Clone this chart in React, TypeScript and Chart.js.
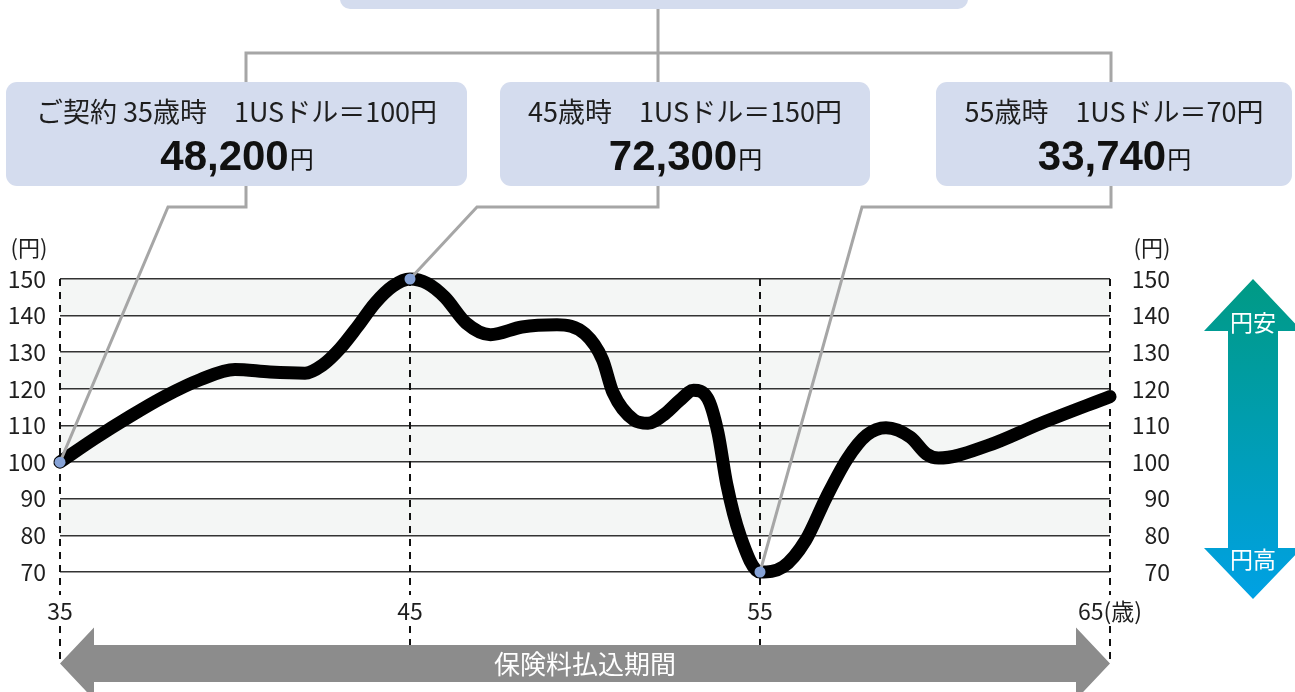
import React, { useEffect, useRef } from "react";
import { Chart, registerables } from "chart.js";

Chart.register(...registerables);

// ---- data ----
const ages = [35, 36, 37, 38, 39, 40, 41, 42, 42.5, 43, 43.5, 44, 44.5, 45, 45.5, 46, 46.6, 47.3, 48.2, 49.2, 50, 50.5, 50.8, 51.4, 51.8, 52.3, 52.7, 53.1, 53.5, 53.8, 54.05, 54.43, 55, 55.66, 56.3, 56.9, 57.5, 58.05, 58.6, 59.3, 59.76, 60.1, 61.5, 63, 65];
const rates = [100, 106.5, 112.5, 118, 122.5, 125.3, 124.6, 124.3, 126.5, 131, 137, 143.4, 148, 150, 148.8, 145, 138, 134.8, 136.9, 137.5, 135, 128, 119, 111.5, 110.6, 113.3, 116.8, 119.6, 117.5, 108, 94, 80, 70, 71.4, 78.6, 90.5, 101, 107.4, 109.4, 106.8, 102.2, 101.1, 104.5, 110.5, 117.9];

const calloutAges = [35, 45, 55];
const calloutHeads = ["ご契約 35歳時　1USドル＝100円", "45歳時　1USドル＝150円", "55歳時　1USドル＝70円"];
const calloutAmounts = ["48,200", "72,300", "33,740"];
const amountUnit = "円";
const yUnitLabel = "(円)";
const xUnitLabel = "(歳)";
const periodLabel = "保険料払込期間";
const weakYenLabel = "円安";
const strongYenLabel = "円高";

const JP = "'Noto Sans CJK JP', 'Noto Sans', sans-serif";

// layout (pixels)
const boxes = [
  { x: 6, w: 461, stemX: 246, elbowX: 168 },
  { x: 500, w: 370, stemX: 658, elbowX: 477 },
  { x: 936, w: 356, stemX: 1111, elbowX: 862 },
];
const BOX_TOP = 82;
const BOX_H = 104;
const BOX_COLOR = "#d4dcee";
const CONNECT = "#a6a6a6";

function valueAt(age: number): number {
  const i = ages.indexOf(age);
  return rates[i];
}

const decorPlugin = {
  id: "decor",
  beforeDraw(chart: any) {
    const { ctx, chartArea, scales } = chart;
    const y = scales.y;
    ctx.save();
    ctx.fillStyle = "#ffffff";
    ctx.fillRect(0, 0, chart.width, chart.height);
    ctx.fillStyle = "#f4f6f5";
    for (let v = 140; v >= 70; v -= 20) {
      const top = y.getPixelForValue(v + 10);
      const bot = y.getPixelForValue(v);
      ctx.fillRect(chartArea.left, top, chartArea.right - chartArea.left, bot - top);
    }
    ctx.restore();
  },
  beforeDatasetsDraw(chart: any) {
    const { ctx, chartArea, scales } = chart;
    const x = scales.x;
    ctx.save();
    ctx.strokeStyle = "#111";
    ctx.lineWidth = 2;
    ctx.setLineDash([7, 6]);
    x.ticks.forEach((t: any) => {
      const px = Math.round(x.getPixelForValue(t.value));
      ctx.beginPath();
      ctx.moveTo(px, chartArea.top);
      ctx.lineTo(px, chartArea.bottom + 23);
      ctx.moveTo(px, chartArea.bottom + 54);
      ctx.lineTo(px, chartArea.bottom + 93);
      ctx.stroke();
    });
    ctx.restore();
  },
  afterDatasetDraw(chart: any, args: any) {
    if (args.index !== 0) return;
    const { ctx, scales } = chart;
    const x = scales.x;
    const y = scales.y;
    ctx.save();
    ctx.strokeStyle = CONNECT;
    ctx.lineWidth = 3;
    ctx.lineJoin = "miter";
    // top tree
    ctx.beginPath();
    ctx.moveTo(658, 9);
    ctx.lineTo(658, BOX_TOP);
    ctx.moveTo(boxes[0].stemX, BOX_TOP);
    ctx.lineTo(boxes[0].stemX, 53);
    ctx.lineTo(boxes[2].stemX, 53);
    ctx.lineTo(boxes[2].stemX, BOX_TOP);
    ctx.stroke();
    // leaders to points
    calloutAges.forEach((a, i) => {
      const b = boxes[i];
      const px = x.getPixelForValue(a);
      const py = y.getPixelForValue(valueAt(a));
      ctx.beginPath();
      ctx.moveTo(b.stemX, BOX_TOP + BOX_H);
      ctx.lineTo(b.stemX, 207);
      ctx.lineTo(b.elbowX, 207);
      ctx.lineTo(px, py);
      ctx.stroke();
    });
    ctx.restore();
  },
  afterDraw(chart: any) {
    const { ctx, scales } = chart;
    const x = scales.x;
    ctx.save();
    // top box (cut off)
    ctx.fillStyle = BOX_COLOR;
    ctx.beginPath();
    ctx.roundRect(340, -20, 628, 29, 10);
    ctx.fill();
    // callout boxes
    boxes.forEach((b, i) => {
      ctx.fillStyle = BOX_COLOR;
      ctx.beginPath();
      ctx.roundRect(b.x, BOX_TOP, b.w, BOX_H, 11);
      ctx.fill();
      const cx = b.x + b.w / 2;
      ctx.fillStyle = "#1e1e1e";
      ctx.textAlign = "center";
      ctx.textBaseline = "middle";
      ctx.font = `27px ${JP}`;
      ctx.fillText(calloutHeads[i], cx, 112);
      ctx.textBaseline = "alphabetic";
      ctx.font = `bold 42px 'Liberation Sans', Arial, sans-serif`;
      const w1 = ctx.measureText(calloutAmounts[i]).width;
      ctx.font = `24px ${JP}`;
      const w2 = ctx.measureText(amountUnit).width;
      const start = cx - (w1 + w2) / 2;
      ctx.textAlign = "left";
      ctx.font = `bold 42px 'Liberation Sans', Arial, sans-serif`;
      ctx.fillStyle = "#111";
      ctx.fillText(calloutAmounts[i], start, 170);
      ctx.font = `24px ${JP}`;
      ctx.fillText(amountUnit, start + w1 + 1, 168);
    });
    // unit labels
    ctx.fillStyle = "#1e1e1e";
    ctx.font = `22px ${JP}`;
    ctx.textAlign = "center";
    ctx.textBaseline = "middle";
    ctx.fillText(yUnitLabel, 29, 248);
    ctx.fillText(yUnitLabel, 1152, 248);

    // bottom period arrow
    const l = x.getPixelForValue(35);
    const r = x.getPixelForValue(65);
    const cy = 663.5;
    ctx.fillStyle = "#8c8c8c";
    ctx.beginPath();
    ctx.moveTo(l, cy);
    ctx.lineTo(l + 34, cy - 36);
    ctx.lineTo(l + 34, cy - 18.5);
    ctx.lineTo(r - 34, cy - 18.5);
    ctx.lineTo(r - 34, cy - 36);
    ctx.lineTo(r, cy);
    ctx.lineTo(r - 34, cy + 36);
    ctx.lineTo(r - 34, cy + 18.5);
    ctx.lineTo(l + 34, cy + 18.5);
    ctx.lineTo(l + 34, cy + 36);
    ctx.closePath();
    ctx.fill();
    ctx.fillStyle = "#ffffff";
    ctx.font = `26px ${JP}`;
    ctx.textAlign = "center";
    ctx.textBaseline = "middle";
    ctx.fillText(periodLabel, (l + r) / 2, cy + 1);

    // right gradient arrow
    const ax = 1253;
    const top = 279;
    const bot = 599;
    const g = ctx.createLinearGradient(0, top, 0, bot);
    g.addColorStop(0, "#009a84");
    g.addColorStop(1, "#00a1e4");
    ctx.fillStyle = g;
    ctx.beginPath();
    ctx.moveTo(ax, top);
    ctx.lineTo(ax + 49, top + 52);
    ctx.lineTo(ax + 25, top + 52);
    ctx.lineTo(ax + 25, bot - 51);
    ctx.lineTo(ax + 49, bot - 51);
    ctx.lineTo(ax, bot);
    ctx.lineTo(ax - 49, bot - 51);
    ctx.lineTo(ax - 25, bot - 51);
    ctx.lineTo(ax - 25, top + 52);
    ctx.lineTo(ax - 49, top + 52);
    ctx.closePath();
    ctx.fill();
    ctx.fillStyle = "#ffffff";
    ctx.font = `23px ${JP}`;
    ctx.fillText(weakYenLabel, ax, 322);
    ctx.fillText(strongYenLabel, ax, 559);
    ctx.restore();
  },
};

export default function App() {
  const ref = useRef<HTMLCanvasElement | null>(null);
  useEffect(() => {
    if (!ref.current) return;
    const tickFont = { family: JP, size: 23 };
    const chart = new Chart(ref.current, {
      type: "line",
      data: {
        datasets: [
          {
            data: ages.map((a, i) => ({ x: a, y: rates[i] })),
            borderColor: "#000",
            borderWidth: 13,
            borderCapStyle: "round",
            borderJoinStyle: "round",
            cubicInterpolationMode: "monotone",
            pointRadius: 0,
            fill: false,
            clip: false,
            order: 2,
          } as any,
          {
            data: calloutAges.map((a) => ({ x: a, y: valueAt(a) })),
            showLine: false,
            pointRadius: 5.5,
            pointBackgroundColor: "#86a2d6",
            pointBorderWidth: 0,
            borderWidth: 0,
            clip: false,
            order: 1,
          } as any,
        ],
      },
      options: {
        responsive: false,
        animation: false,
        events: [],
        layout: { padding: { left: 0, right: 125, top: 279, bottom: 60 } },
        plugins: { legend: { display: false }, tooltip: { enabled: false } },
        scales: {
          x: {
            type: "linear",
            min: 35,
            max: 65,
            ticks: {
              stepSize: 10,
              font: tickFont,
              color: "#1e1e1e",
              padding: 25,
              maxRotation: 0,
              callback: (v: any) => (v === 65 ? `${v}${xUnitLabel}` : `${v}`),
            },
            grid: { display: false, drawTicks: false },
            border: { display: false },
            afterFit: (s: any) => { s.height = 60; },
          },
          y: {
            position: "left",
            min: 70,
            max: 150,
            ticks: { stepSize: 10, font: tickFont, color: "#1e1e1e", padding: 14 },
            grid: { color: "#333", lineWidth: 1.6, drawTicks: false },
            border: { display: false },
            afterFit: (s: any) => { s.width = 60; },
          },
          y2: {
            position: "right",
            min: 70,
            max: 150,
            ticks: { stepSize: 10, font: tickFont, color: "#1e1e1e", crossAlign: "far" },
            grid: { display: false, drawTicks: false },
            border: { display: false },
            afterFit: (s: any) => { s.width = 60; },
          },
        },
      } as any,
      plugins: [decorPlugin],
    });
    return () => chart.destroy();
  }, []);
  return (
    <div style={{ position: "fixed", left: 0, top: 0, width: 1295, height: 692, background: "#fff" }}>
      <canvas ref={ref} width={1295} height={692} style={{ width: 1295, height: 692, display: "block" }} />
    </div>
  );
}
